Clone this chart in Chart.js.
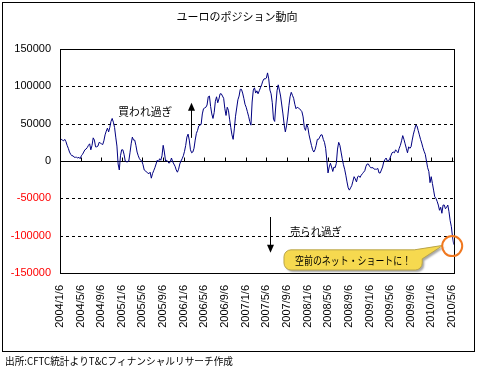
<!DOCTYPE html>
<html lang="ja">
<head>
<meta charset="utf-8">
<title>ユーロのポジション動向</title>
<script src="https://cdn.jsdelivr.net/npm/chart.js@4.4.1/dist/chart.umd.min.js"></script>
<style>
  html, body { margin: 0; padding: 0; background: #fff; }
  canvas { display: block; }
</style>
</head>
<body>
<canvas id="posChart" width="477" height="372"></canvas>
<script>
const chartTitle = 'ユーロのポジション動向';
const sourceNote = '出所:CFTC統計よりT&Cフィナンシャルリサーチ作成';

// weekly CFTC net positions, every Tuesday starting here
const firstWeek = '2004/1/6';
const netPositions = [
  28000, 29000, 28000, 27000, 29000, 26000, 21000, 17000, 12000, 9000,
  7000, 7000, 5000, 5000, 5000, 4000, 5000, 3000, 7000, 9000,
  12000, 15000, 16000, 18000, 21000, 23000, 15000, 21000, 31000, 28000,
  19000, 19000, 20000, 25000, 24000, 23000, 22000, 27000, 35000, 40000,
  44000, 39000, 45000, 53000, 57000, 52000, 45000, 32000, 20000, -4000,
  -12000, 7000, 15000, 15000, 9000, 0, -1000, -1000, 0, 11000,
  23000, 32000, 28000, 28000, 21000, 12000, 7000, 3000, 1000, 0,
  -5000, -12000, -13000, -15000, -16000, -17000, -15000, -23000, -17000, -13000,
  -9000, -4000, 1000, -1000, 3000, 1000, 7000, 21000, 12000, 0,
  1000, -1000, -3000, -1000, 4000, -1000, -4000, -7000, -12000, -15000,
  -11000, -4000, 0, 3000, 7000, 13000, 21000, 32000, 36000, 28000,
  15000, 11000, 12000, 17000, 28000, 37000, 41000, 47000, 48000, 49000,
  63000, 70000, 71000, 72000, 75000, 86000, 87000, 73000, 63000, 57000,
  65000, 80000, 86000, 78000, 83000, 90000, 90000, 87000, 84000, 70000,
  61000, 72000, 68000, 56000, 45000, 35000, 29000, 43000, 60000, 71000,
  82000, 87000, 96000, 96000, 91000, 84000, 76000, 72000, 66000, 60000,
  53000, 48000, 79000, 95000, 98000, 91000, 94000, 90000, 94000, 98000,
  102000, 107000, 110000, 110000, 111000, 118000, 110000, 95000, 90000, 78000,
  56000, 53000, 75000, 94000, 102000, 95000, 87000, 75000, 63000, 49000,
  39000, 47000, 59000, 74000, 86000, 92000, 88000, 84000, 76000, 70000,
  72000, 71000, 70000, 68000, 66000, 59000, 45000, 41000, 49000, 45000,
  35000, 28000, 21000, 15000, 12000, 15000, 21000, 29000, 29000, 32000,
  35000, 35000, 29000, 25000, 17000, 1000, -16000, -8000, -3000, -8000,
  -14000, -8000, -9000, -3000, 16000, 25000, 21000, 12000, 3000, -5000,
  -11000, -19000, -28000, -36000, -39000, -36000, -33000, -27000, -21000, -24000,
  -28000, -21000, -20000, -22000, -19000, -17000, -15000, -13000, -7000, -4000,
  -4000, -7000, -9000, -9000, -9000, -11000, -11000, -11000, -10000, -16000,
  -16000, -12000, -8000, -1000, 2000, 4000, 0, 0, 3000, 7000,
  11000, 12000, 11000, 15000, 13000, 11000, 17000, 21000, 27000, 34000,
  29000, 23000, 17000, 11000, 19000, 17000, 19000, 28000, 36000, 42000,
  48000, 47000, 41000, 35000, 29000, 24000, 18000, 13000, 9000, 0,
  -9000, -14000, -29000, -21000, -30000, -39000, -48000, -50000, -54000, -59000,
  -66000, -62000, -70000, -59000, -59000, -64000, -62000, -59000, -68000, -80000,
  -88000, -102000, -112000
];

const xTickLabels = [
  '2004/1/6', '2004/5/6', '2004/9/6', '2005/1/6', '2005/5/6', '2005/9/6',
  '2006/1/6', '2006/5/6', '2006/9/6', '2007/1/6', '2007/5/6', '2007/9/6',
  '2008/1/6', '2008/5/6', '2008/9/6', '2009/1/6', '2009/5/6', '2009/9/6',
  '2010/1/6', '2010/5/6'
];
const yTicks = [150000, 100000, 50000, 0, -50000, -100000, -150000];

// annotations, in days since firstWeek / position values
const notes = [
  { text: '買われ過ぎ', day: 344, value: 66000, width: 54 },
  { text: '売られ過ぎ', day: 1357, value: -95000, width: 52 }
];
const arrows = [
  { day: 775, from: 31000, to: 78000 },
  { day: 1241, from: -75000, to: -123000 }
];
const callout = {
  text: '空前のネット・ショートに！',
  from: 1322, to: 2138, top: -119000, bottom: -146000,
  tipDay: 2260, tipValue: -113000
};
const highlight = { day: 2315, value: -114000 };

function dayOf(s) {
  const [yy, mm, dd] = s.split('/').map(Number);
  return Date.UTC(yy, mm - 1, dd) / 86400000;
}
const day0 = dayOf(firstWeek);
const xTickDays = xTickLabels.map(s => dayOf(s) - day0);
const points = netPositions.map((v, i) => ({ x: i * 7, y: v }));
const lastDay = (netPositions.length - 1) * 7;

const jpFont = '"Noto Sans CJK JP", sans-serif';
const numFont = '"Liberation Sans", Arial, sans-serif';

const decorations = {
    id: 'decorations',
    beforeDatasetsDraw(chart) {
        const { ctx, chartArea: a, scales: { x, y } } = chart;
        ctx.save();
        ctx.strokeStyle = '#000';
        ctx.lineWidth = 1;
        ctx.setLineDash([3, 3]);
        yTicks.forEach(v => {
            if (v === 0 || Math.abs(v) === 150000) return;
            const py = Math.round(y.getPixelForValue(v)) + 0.5;
            ctx.beginPath();
            ctx.moveTo(a.left, py);
            ctx.lineTo(a.right, py);
            ctx.stroke();
        });
        ctx.setLineDash([]);
        // category axis crossing at zero, tick marks pointing up
        const y0 = Math.round(y.getPixelForValue(0)) + 0.5;
        ctx.beginPath();
        ctx.moveTo(a.left, y0);
        ctx.lineTo(a.right, y0);
        xTickDays.forEach(d => {
            const px = Math.round(x.getPixelForValue(d)) + 0.5;
            ctx.moveTo(px, y0);
            ctx.lineTo(px, y0 - 4);
        });
        ctx.stroke();
        ctx.restore();
    },
    afterDraw(chart) {
        const { ctx, chartArea: a, scales: { x, y } } = chart;
        ctx.save();
        ctx.strokeStyle = '#000';
        ctx.lineWidth = 1;
        ctx.strokeRect(Math.round(a.left) + 0.5, Math.round(a.top) + 0.5,
            Math.round(a.right - a.left), Math.round(a.bottom - a.top));
        ctx.strokeRect(2.5, 2.5, 472, 349);

        ctx.fillStyle = '#000';
        ctx.font = '11px ' + jpFont;
        ctx.textAlign = 'center';
        ctx.textBaseline = 'middle';
        ctx.fillText(chartTitle, 237, 17);

        ctx.textAlign = 'left';
        notes.forEach(n => {
            ctx.fillText(n.text, x.getPixelForValue(n.day), y.getPixelForValue(n.value), n.width);
        });

        arrows.forEach(ar => {
            const px = Math.round(x.getPixelForValue(ar.day)) + 0.5;
            const p1 = y.getPixelForValue(ar.from);
            const p2 = y.getPixelForValue(ar.to);
            const dir = p2 < p1 ? 1 : -1;
            ctx.beginPath();
            ctx.moveTo(px, p1);
            ctx.lineTo(px, p2 + dir * 6);
            ctx.stroke();
            ctx.beginPath();
            ctx.moveTo(px, p2);
            ctx.lineTo(px - 3.5, p2 + dir * 8);
            ctx.lineTo(px + 3.5, p2 + dir * 8);
            ctx.closePath();
            ctx.fill();
        });

        // yellow speech bubble
        const l = x.getPixelForValue(callout.from), r = x.getPixelForValue(callout.to);
        const t = y.getPixelForValue(callout.top), b = y.getPixelForValue(callout.bottom);
        const tx = x.getPixelForValue(callout.tipDay), ty = y.getPixelForValue(callout.tipValue);
        const rad = 7;
        ctx.beginPath();
        ctx.moveTo(l + rad, t);
        ctx.lineTo(r - 8, t);
        ctx.lineTo(tx, ty);
        ctx.lineTo(r, t + 9);
        ctx.arcTo(r, b, r - rad, b, rad);
        ctx.arcTo(l, b, l, b - rad, rad);
        ctx.arcTo(l, t, l + rad, t, rad);
        ctx.closePath();
        ctx.shadowColor = 'rgba(0,0,0,0.35)';
        ctx.shadowOffsetX = 2;
        ctx.shadowOffsetY = 2;
        ctx.shadowBlur = 2;
        ctx.fillStyle = '#f6d94f';
        ctx.fill();
        ctx.shadowColor = 'transparent';
        ctx.strokeStyle = '#b9a44a';
        ctx.stroke();
        ctx.fillStyle = '#000';
        ctx.textAlign = 'center';
        ctx.fillText(callout.text, (l + r) / 2, (t + b) / 2 + 1, 116);

        ctx.beginPath();
        ctx.arc(x.getPixelForValue(highlight.day), y.getPixelForValue(highlight.value), 10, 0, Math.PI * 2);
        ctx.strokeStyle = '#f07820';
        ctx.lineWidth = 2;
        ctx.stroke();

        ctx.fillStyle = '#000';
        ctx.font = '10px ' + jpFont;
        ctx.textAlign = 'left';
        ctx.fillText(sourceNote, 5, 361, 228);
        ctx.restore();
    }
};

document.addEventListener('DOMContentLoaded', function () {
    const ctx = document.getElementById('posChart').getContext('2d');
    new Chart(ctx, {
        type: 'line',
        data: {
            datasets: [{
                label: 'ネット・ポジション',
                data: points,
                borderColor: '#000080',
                borderWidth: 1,
                pointRadius: 0,
                tension: 0,
                fill: false
            }]
        },
        options: {
            responsive: false,
            animation: false,
            devicePixelRatio: 1,
            layout: { padding: { left: 0, right: 18, top: 49, bottom: 0 } },
            plugins: {
                legend: { display: false },
                tooltip: { enabled: false },
                title: { display: false }
            },
            scales: {
                x: {
                    type: 'linear',
                    min: 0,
                    max: lastDay,
                    afterBuildTicks: s => { s.ticks = xTickDays.map(v => ({ value: v })); },
                    afterFit: s => { s.height = 99; },
                    grid: { display: false, drawTicks: false },
                    border: { display: false },
                    ticks: {
                        autoSkip: false,
                        maxRotation: 90,
                        minRotation: 90,
                        padding: 12,
                        color: '#000',
                        font: { family: numFont, size: 11 },
                        callback: (v, i) => xTickLabels[i]
                    }
                },
                y: {
                    min: -150000,
                    max: 150000,
                    afterBuildTicks: s => { s.ticks = yTicks.map(v => ({ value: v })); },
                    afterFit: s => { s.width = 60; },
                    grid: { display: false, drawTicks: false },
                    border: { display: false },
                    ticks: {
                        padding: 9,
                        font: { family: numFont, size: 11 },
                        color: c => c.tick.value < 0 ? '#ff0000' : '#000000',
                        callback: v => String(v)
                    }
                }
            }
        },
        plugins: [decorations]
    });
});
</script>
</body>
</html>
